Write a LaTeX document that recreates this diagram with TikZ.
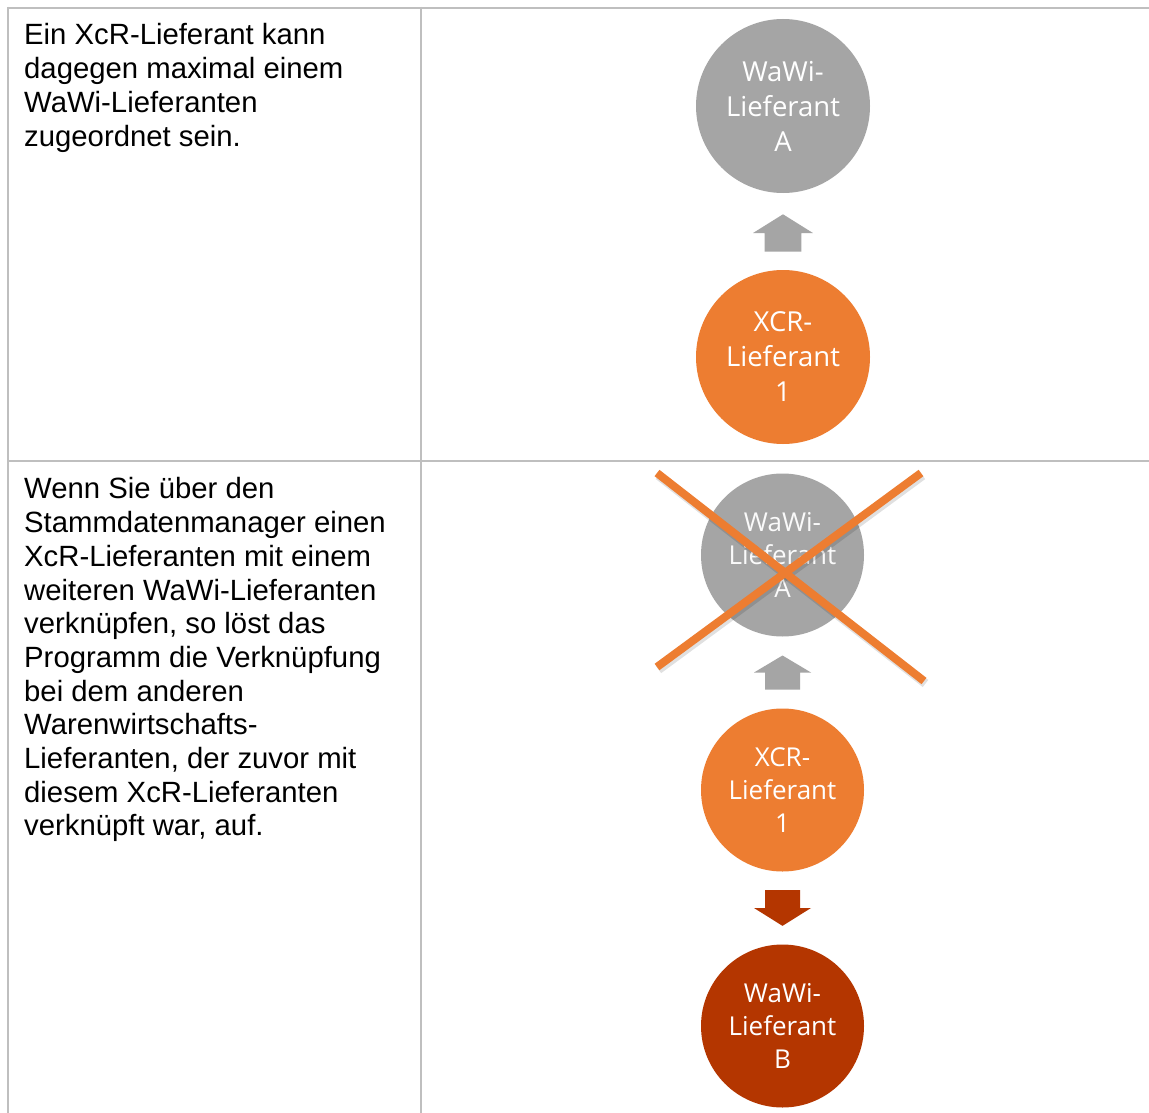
\documentclass[tikz,border=0pt]{standalone}
\usepackage{fontspec}
\usetikzlibrary{calc}
\setmainfont{Liberation Sans}
\newfontfamily\bubblefont{Open Sans}
\definecolor{gridgray}{HTML}{BFBFBF}
\definecolor{bubblegray}{HTML}{A5A5A5}
\definecolor{accentorange}{HTML}{ED7D31}
\definecolor{darkrust}{RGB}{180,54,0}
\begin{document}
\begin{tikzpicture}[x=1pt,y=-1pt,
  grid/.style={draw=gridgray,line width=2pt},
  bodytext/.style={anchor=north west,inner sep=0pt,align=left,
    font=\fontsize{29.3}{33.7}\selectfont},
  bubble/.style={circle,inner sep=0pt,align=center,text=white,
    minimum size=174pt,font=\bubblefont\fontsize{27.5}{35}\selectfont},
  smallbubble/.style={bubble,minimum size=163pt,
    font=\bubblefont\fontsize{26}{33}\selectfont},
  crossline/.style={draw=accentorange,line width=8pt},
  crossshadow/.style={draw=black,opacity=0.12,line width=9pt},
  uparrow/.pic={\fill[pic actions] (0,-17) -- (28.5,0) -- (17.5,0) -- (17.5,17)
     -- (-17.5,17) -- (-17.5,0) -- (-28.5,0) -- cycle;}]
\useasboundingbox (0,0) rectangle (1149,1113);
\fill[white] (0,0) rectangle (1149,1113);

% table rules
\draw[grid] (7,8) -- (1149,8);
\draw[grid] (8,461) -- (1149,461);
\draw[grid] (8,7) -- (8,1113);
\draw[grid] (421,7) -- (421,1113);

% left column text
\node[bodytext] (txtA) at (24,23.5) {Ein XcR-Lieferant kann\\dagegen maximal einem\\WaWi-Lieferanten\\zugeordnet sein.};
\node[bodytext] (txtB) at (24,477.5) {Wenn Sie über den\\Stammdatenmanager einen\\XcR-Lieferanten mit einem\\weiteren WaWi-Lieferanten\\verknüpfen, so löst das\\Programm die Verknüpfung\\bei dem anderen\\Warenwirtschafts-\\Lieferanten, der zuvor mit\\diesem XcR-Lieferanten\\verknüpft war, auf.};

% upper row: current assignment
\node[bubble,fill=bubblegray] (wawiA) at (783,106) {WaWi-\\Lieferant\\A};
\node[bubble,fill=accentorange] (xcrA) at (783,357) {XCR-\\Lieferant\\1};
\pic[fill=bubblegray,xscale=1.05,yscale=1.1] at ($(wawiA.south)!0.5!(xcrA.north)+(0,1.5)$) {uparrow};

% lower row: reassignment
\node[smallbubble,fill=bubblegray,text=white!94!bubblegray] (wawiOld) at (782.5,555) {WaWi-\\Lieferant\\A};
\node[smallbubble,fill=accentorange] (xcrB) at (782.5,790) {XCR-\\Lieferant\\1};
\node[smallbubble,fill=darkrust] (wawiB) at (782.5,1026) {WaWi-\\Lieferant\\B};
\pic[fill=bubblegray] at ($(wawiOld.south)!0.5!(xcrB.north)$) {uparrow};
\pic[fill=darkrust,rotate=180,xscale=1.0,yscale=1.05] at ($(xcrB.south)!0.5!(wawiB.north)$) {uparrow};

% cancelled link
\coordinate (xa1) at (657,473);
\coordinate (xa2) at (924,681);
\coordinate (xb1) at (921,473);
\coordinate (xb2) at (657,667);
\draw[crossshadow] ($(xa1)+(1.5,2.5)$) -- ($(xa2)+(1.5,2.5)$);
\draw[crossshadow] ($(xb1)+(1.5,2.5)$) -- ($(xb2)+(1.5,2.5)$);
\draw[crossline] (xa1) -- (xa2);
\draw[crossline] (xb1) -- (xb2);
\end{tikzpicture}
\end{document}
